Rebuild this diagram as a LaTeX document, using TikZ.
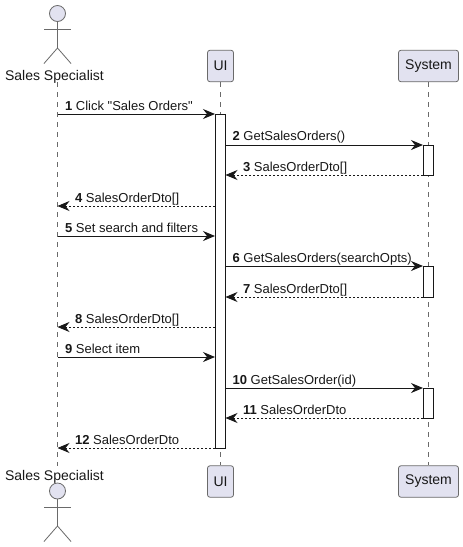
\documentclass[tikz,border=0pt]{standalone}
\usepackage{fontspec}
\setmainfont{Liberation Sans}[Ligatures=TeXOff]
\usetikzlibrary{arrows.meta}
\definecolor{partfill}{HTML}{E2E2F0}
\definecolor{ink}{HTML}{181818}
\definecolor{softink}{HTML}{6A6A6A}
\tikzset{
  partbox/.style={draw=softink,line width=0.8pt,fill=partfill,rounded corners=2.5pt,minimum height=31.5pt,inner sep=0pt,font=\fontsize{14}{16}\selectfont,text=ink},
  headnode/.style={draw=softink,line width=0.8pt,fill=partfill,circle,minimum size=16pt,inner sep=0pt},
  limb/.style={draw=softink,line width=0.8pt},
  actorlabel/.style={font=\fontsize{14}{16}\selectfont,text=ink,inner sep=0pt},
  lifeline/.style={draw=softink,line width=0.7pt,dash pattern=on 5pt off 5pt},
  activebar/.style={draw=ink,line width=1pt,fill=white,minimum width=10pt,inner sep=0pt},
  syncmsg/.style={draw=ink,line width=1pt,-{Stealth[length=12pt,width=10pt,inset=4pt]}},
  replymsg/.style={draw=ink,line width=0.8pt,dash pattern=on 2pt off 2pt,-{Stealth[length=12pt,width=10pt,inset=4pt,line width=0.8pt,sep=0pt]}},
  msglabel/.style={anchor=base west,inner sep=0pt,font=\fontsize{13}{15}\selectfont,text=ink},
}
\newcommand{\msgtext}[2]{\textbf{#1}\hspace{3.5pt}#2}
\begin{document}
\begin{tikzpicture}[x=1pt,y=-1pt]
\useasboundingbox (0,0) rectangle (463,547);
\fill[white] (0,0) rectangle (463,547);
% participants
\node[partbox,minimum width=26pt] (uiT) at (220.5,66) {\raisebox{-1pt}{UI}};
\node[partbox,minimum width=60pt] (sysT) at (428.5,66) {\raisebox{-1pt}{System}};
\node[partbox,minimum width=26pt] (uiB) at (220.5,481.5) {\raisebox{-1pt}{UI}};
\node[partbox,minimum width=60pt] (sysB) at (428.5,481.5) {\raisebox{-1pt}{System}};
\node[actorlabel] (actT) at (54.5,76.5) {Sales Specialist};
\node[actorlabel] (actB) at (54.5,476.5) {Sales Specialist};
\coordinate (actTop) at (57.5,82);
\coordinate (actBot) at (57.5,466);
% lifelines
\draw[lifeline] (actTop) -- (actBot);
\draw[lifeline] (uiT.south) -- (uiB.north);
\draw[lifeline] (sysT.south) -- (sysB.north);
% actor top
\node[headnode] (headT) at (57.5,13.5) {};
\coordinate (hipT) at (57.5,48);
\draw[limb] (headT.south) -- (hipT);
\draw[limb] (44,29) -- (71,29);
\draw[limb] (44,63.5) -- (hipT) -- (71,63.5);
% actor bottom
\node[headnode] (headB) at (57.5,491) {};
\coordinate (hipB) at (57.5,526);
\draw[limb] (headB.south) -- (hipB);
\draw[limb] (44,507) -- (71,507);
\draw[limb] (44,541.5) -- (hipB) -- (71,541.5);
% activations
\node[activebar,minimum height=334pt] (barU) at (220.5,281) {};
\node[activebar,minimum height=30pt] (barA) at (428.5,160) {};
\node[activebar,minimum height=31pt] (barB) at (428.5,281.5) {};
\node[activebar,minimum height=30pt] (barC) at (428.5,403) {};
% message endpoints
\foreach \n/\y in {a/114,b/206,c/236,d/327,e/357,f/448}{
  \coordinate (actor\n) at (57.5,\y);
  \coordinate (ui\n) at (215,\y);
}
\foreach \n/\y in {p/145,q/175,r/266,s/297,t/388,u/418}{
  \coordinate (uiR\n) at (225.5,\y);
  \coordinate (sys\n) at (423,\y);
}
% messages
\draw[syncmsg] (actora) -- (uia);
\draw[syncmsg] (uiRp) -- (sysp);
\draw[replymsg] (sysq) -- (uiRq);
\draw[replymsg] (uib) -- (actorb);
\draw[syncmsg] (actorc) -- (uic);
\draw[syncmsg] (uiRr) -- (sysr);
\draw[replymsg] (syss) -- (uiRs);
\draw[replymsg] (uid) -- (actord);
\draw[syncmsg] (actore) -- (uie);
\draw[syncmsg] (uiRt) -- (syst);
\draw[replymsg] (sysu) -- (uiRu);
\draw[replymsg] (uif) -- (actorf);
% labels
\node[msglabel] (m1) at (65,110.5) {\msgtext{1}{Click "Sales Orders"}};
\node[msglabel] (m2) at (232.5,140.5) {\msgtext{2}{GetSalesOrders()}};
\node[msglabel] (m3) at (243,171.5) {\msgtext{3}{SalesOrderDto[]}};
\node[msglabel] (m4) at (75,202) {\msgtext{4}{SalesOrderDto[]}};
\node[msglabel] (m5) at (65,232) {\msgtext{5}{Set search and filters}};
\node[msglabel] (m6) at (232.5,262) {\msgtext{6}{GetSalesOrders(searchOpts)}};
\node[msglabel] (m7) at (243,293) {\msgtext{7}{SalesOrderDto[]}};
\node[msglabel] (m8) at (75,323) {\msgtext{8}{SalesOrderDto[]}};
\node[msglabel] (m9) at (65,353.5) {\msgtext{9}{Select item}};
\node[msglabel] (m10) at (232.5,384) {\msgtext{10}{GetSalesOrder(id)}};
\node[msglabel] (m11) at (243,414) {\msgtext{11}{SalesOrderDto}};
\node[msglabel] (m12) at (75,444.5) {\msgtext{12}{SalesOrderDto}};
\end{tikzpicture}
\end{document}
